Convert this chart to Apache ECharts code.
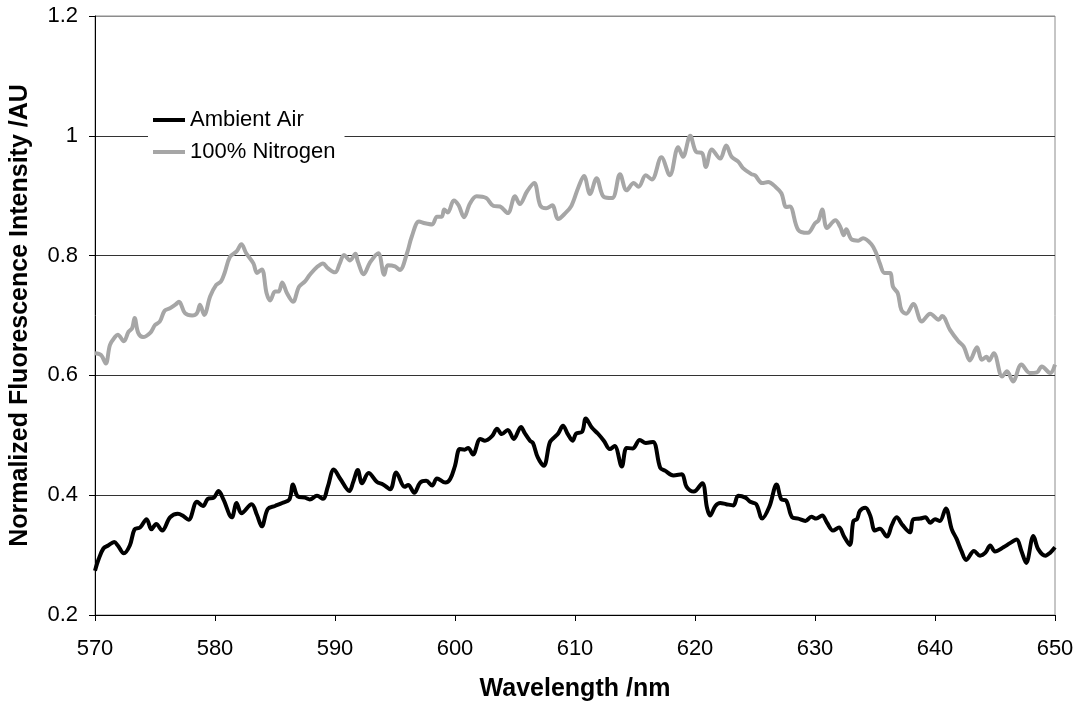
<!DOCTYPE html>
<html>
<head>
  <meta charset="UTF-8">
  <title>Fluorescence spectrum</title>
  <script src="https://cdn.jsdelivr.net/npm/echarts@6/dist/echarts.min.js"></script>
  <style>
    body { margin: 0; background: #fff; }
    #chart { width: 1078px; height: 707px; }
  </style>
</head>
<body>
  <div id="chart"></div>
  <script type="text/javascript">
    // wavelength (nm) / normalized intensity
    var airWavelength = [570.0, 570.3, 570.7, 571.1, 571.6, 571.9, 572.4, 572.9, 573.3, 573.75, 574.3, 574.7, 575.1, 575.6, 576.25, 576.9, 577.3, 577.8, 578.5, 579.0, 579.4, 579.9, 580.3, 580.7, 581.4, 581.8, 582.2, 583.05, 583.5, 583.9, 584.4, 585.0, 585.6, 586.2, 586.5, 586.9, 587.5, 587.9, 588.5, 589.0, 589.4, 589.9, 590.45, 591.2, 591.5, 591.9, 592.25, 592.8, 593.5, 594.0, 594.6, 595.1, 595.8, 596.1, 596.6, 597.1, 597.6, 598.1, 598.5, 599.2, 599.6, 600.0, 600.4, 600.8, 601.1, 601.5, 602.1, 602.5, 603.1, 603.5, 603.9, 604.4, 604.9, 605.5, 605.8, 606.25, 606.5, 606.9, 607.4, 607.9, 608.25, 608.6, 609.0, 609.4, 609.8, 610.1, 610.6, 610.9, 611.4, 611.9, 612.4, 612.9, 613.3, 613.9, 614.3, 614.8, 615.4, 615.9, 616.5, 617.1, 617.5, 618.2, 618.9, 619.3, 619.9, 620.6, 621.0, 621.25, 621.7, 622.1, 622.6, 623.2, 623.6, 624.2, 624.6, 625.1, 625.6, 626.2, 626.8, 627.2, 627.6, 628.1, 628.6, 629.2, 629.7, 630.1, 630.6, 631.0, 631.5, 632.0, 632.4, 632.9, 633.2, 633.5, 633.75, 634.2, 634.6, 635.0, 635.4, 636.0, 636.4, 636.8, 637.3, 637.9, 638.2, 638.75, 639.2, 639.6, 640.0, 640.4, 640.9, 641.4, 641.8, 642.2, 642.6, 643.25, 643.75, 644.2, 644.6, 645.0, 645.7, 646.25, 646.8, 647.2, 647.6, 648.2, 648.6, 649.2, 649.6, 650.0];
    var airIntensity = [0.274, 0.293, 0.311, 0.316, 0.322, 0.316, 0.303, 0.316, 0.343, 0.346, 0.360, 0.343, 0.352, 0.341, 0.363, 0.369, 0.366, 0.359, 0.389, 0.382, 0.394, 0.396, 0.407, 0.393, 0.363, 0.387, 0.370, 0.385, 0.367, 0.348, 0.377, 0.382, 0.387, 0.393, 0.418, 0.398, 0.396, 0.393, 0.399, 0.394, 0.414, 0.443, 0.427, 0.407, 0.421, 0.442, 0.420, 0.437, 0.422, 0.418, 0.410, 0.438, 0.414, 0.417, 0.404, 0.421, 0.424, 0.416, 0.428, 0.421, 0.427, 0.449, 0.477, 0.476, 0.479, 0.468, 0.494, 0.491, 0.499, 0.511, 0.502, 0.509, 0.494, 0.514, 0.504, 0.491, 0.487, 0.463, 0.449, 0.488, 0.496, 0.503, 0.516, 0.502, 0.491, 0.503, 0.506, 0.528, 0.513, 0.503, 0.491, 0.477, 0.482, 0.448, 0.479, 0.478, 0.492, 0.487, 0.489, 0.446, 0.441, 0.433, 0.435, 0.414, 0.406, 0.420, 0.379, 0.366, 0.382, 0.387, 0.385, 0.383, 0.399, 0.396, 0.389, 0.385, 0.361, 0.381, 0.418, 0.393, 0.391, 0.363, 0.361, 0.357, 0.364, 0.361, 0.366, 0.354, 0.341, 0.346, 0.332, 0.317, 0.357, 0.360, 0.374, 0.379, 0.366, 0.341, 0.344, 0.331, 0.350, 0.363, 0.350, 0.338, 0.360, 0.361, 0.363, 0.354, 0.360, 0.357, 0.378, 0.343, 0.327, 0.307, 0.292, 0.307, 0.299, 0.304, 0.316, 0.306, 0.313, 0.320, 0.326, 0.307, 0.287, 0.332, 0.310, 0.299, 0.304, 0.313];

    var n2Wavelength = [570.0, 570.5, 570.9, 571.25, 571.7, 571.9, 572.4, 572.8, 573.1, 573.3, 573.6, 574.0, 574.6, 575.0, 575.4, 575.8, 576.25, 576.7, 577.0, 577.5, 578.1, 578.5, 578.75, 579.1, 579.6, 580.1, 580.5, 580.8, 581.25, 581.8, 582.2, 582.6, 583.2, 583.5, 583.9, 584.3, 584.6, 585.0, 585.3, 585.6, 586.0, 586.5, 587.0, 587.5, 587.9, 588.5, 589.0, 589.4, 590.0, 590.4, 590.75, 591.25, 591.7, 591.9, 592.4, 592.9, 593.6, 594.1, 594.4, 595.0, 595.4, 596.0, 596.4, 597.0, 597.5, 598.1, 598.5, 598.9, 599.1, 599.4, 599.9, 600.3, 600.75, 601.25, 601.8, 602.6, 603.2, 603.75, 604.4, 605.0, 605.4, 606.0, 606.6, 607.1, 607.6, 608.1, 608.6, 609.2, 609.7, 610.3, 610.75, 611.25, 611.8, 612.4, 613.1, 613.75, 614.3, 614.9, 615.3, 615.9, 616.4, 617.2, 617.9, 618.6, 619.0, 619.6, 620.1, 620.6, 620.9, 621.4, 622.1, 622.6, 623.05, 623.6, 624.0, 624.7, 625.0, 625.6, 626.1, 626.7, 627.2, 627.6, 627.9, 628.6, 629.4, 630.0, 630.3, 630.6, 631.0, 631.7, 632.1, 632.4, 632.6, 633.05, 633.6, 634.0, 634.7, 635.1, 635.4, 635.8, 636.25, 636.5, 636.9, 637.2, 637.6, 638.2, 638.9, 639.6, 640.3, 640.6, 641.25, 641.95, 642.4, 642.9, 643.5, 643.9, 644.3, 644.5, 644.9, 645.6, 646.0, 646.5, 647.2, 647.9, 648.5, 648.9, 649.6, 650.0];
    var n2Intensity = [0.637, 0.634, 0.620, 0.651, 0.665, 0.668, 0.657, 0.673, 0.679, 0.696, 0.671, 0.664, 0.671, 0.684, 0.690, 0.708, 0.712, 0.718, 0.723, 0.704, 0.700, 0.704, 0.718, 0.701, 0.732, 0.751, 0.757, 0.771, 0.798, 0.807, 0.819, 0.804, 0.787, 0.771, 0.777, 0.737, 0.725, 0.740, 0.740, 0.755, 0.737, 0.723, 0.748, 0.757, 0.768, 0.781, 0.787, 0.779, 0.772, 0.787, 0.801, 0.792, 0.803, 0.790, 0.769, 0.788, 0.804, 0.768, 0.784, 0.782, 0.776, 0.804, 0.832, 0.857, 0.854, 0.852, 0.865, 0.865, 0.877, 0.872, 0.892, 0.884, 0.864, 0.887, 0.899, 0.896, 0.883, 0.882, 0.871, 0.899, 0.886, 0.907, 0.921, 0.884, 0.879, 0.884, 0.861, 0.871, 0.883, 0.915, 0.933, 0.903, 0.929, 0.898, 0.896, 0.936, 0.909, 0.921, 0.915, 0.934, 0.927, 0.964, 0.934, 0.981, 0.965, 1.000, 0.973, 0.971, 0.948, 0.977, 0.962, 0.984, 0.965, 0.957, 0.946, 0.936, 0.934, 0.921, 0.923, 0.915, 0.904, 0.881, 0.882, 0.843, 0.838, 0.854, 0.859, 0.877, 0.846, 0.859, 0.848, 0.834, 0.844, 0.827, 0.825, 0.829, 0.819, 0.804, 0.787, 0.771, 0.771, 0.748, 0.737, 0.709, 0.703, 0.719, 0.690, 0.703, 0.693, 0.699, 0.676, 0.657, 0.648, 0.625, 0.647, 0.626, 0.631, 0.625, 0.637, 0.598, 0.607, 0.590, 0.618, 0.604, 0.605, 0.615, 0.604, 0.618];

    var seriesNames = ['Ambient Air', '100% Nitrogen'];

    function pairs(xs, ys) {
      return xs.map(function (x, i) { return [x, ys[i]]; });
    }

    var font = 'Arial, "Liberation Sans", sans-serif';
    var chart = echarts.init(document.getElementById('chart'));

    chart.setOption({
      animation: false,
      textStyle: { fontFamily: font },
      grid: {
        left: 95, right: 23, top: 16, bottom: 91,
        show: true, borderColor: '#8c8c8c', borderWidth: 1
      },
      legend: {
        data: seriesNames,
        orient: 'vertical',
        left: 148, top: 104,
        padding: [5, 9, 5, 5],
        itemGap: 10,
        itemWidth: 32, itemHeight: 4,
        icon: 'rect',
        backgroundColor: '#fff',
        textStyle: { fontSize: 22, color: '#000', fontFamily: font }
      },
      xAxis: {
        type: 'value',
        min: 570, max: 650, interval: 10,
        name: 'Wavelength /nm',
        nameLocation: 'middle',
        nameGap: 62,
        nameTextStyle: { fontSize: 25, fontWeight: 'bold', color: '#000', fontFamily: font },
        axisLine: { lineStyle: { color: '#000', width: 1 } },
        axisTick: { length: 6, lineStyle: { color: '#000' } },
        axisLabel: { fontSize: 22, color: '#000', margin: 23, fontFamily: font },
        splitLine: { show: false }
      },
      yAxis: {
        type: 'value',
        min: 0.2, max: 1.2, interval: 0.2,
        name: 'Normalized Fluorescence Intensity /AU',
        nameLocation: 'middle',
        nameGap: 62,
        nameTextStyle: { fontSize: 25, fontWeight: 'bold', color: '#000', fontFamily: font },
        axisLine: { show: true, lineStyle: { color: '#000', width: 1 } },
        axisTick: { show: true, length: 6, lineStyle: { color: '#000' } },
        axisLabel: { fontSize: 22, color: '#000', margin: 17, fontFamily: font },
        splitLine: {
          show: true,
          lineStyle: { color: ['#000', '#333', '#333', '#333', '#333', '#8c8c8c'], width: 1 }
        }
      },
      series: [
        {
          name: seriesNames[0],
          type: 'line',
          data: pairs(airWavelength, airIntensity),
          symbol: 'none',
          smooth: 0.35,
          color: '#000',
          lineStyle: { color: '#000', width: 4 },
          z: 3
        },
        {
          name: seriesNames[1],
          type: 'line',
          data: pairs(n2Wavelength, n2Intensity),
          symbol: 'none',
          smooth: 0.35,
          color: '#a6a6a6',
          lineStyle: { color: '#a6a6a6', width: 4 },
          z: 2
        }
      ]
    });
  </script>
</body>
</html>
